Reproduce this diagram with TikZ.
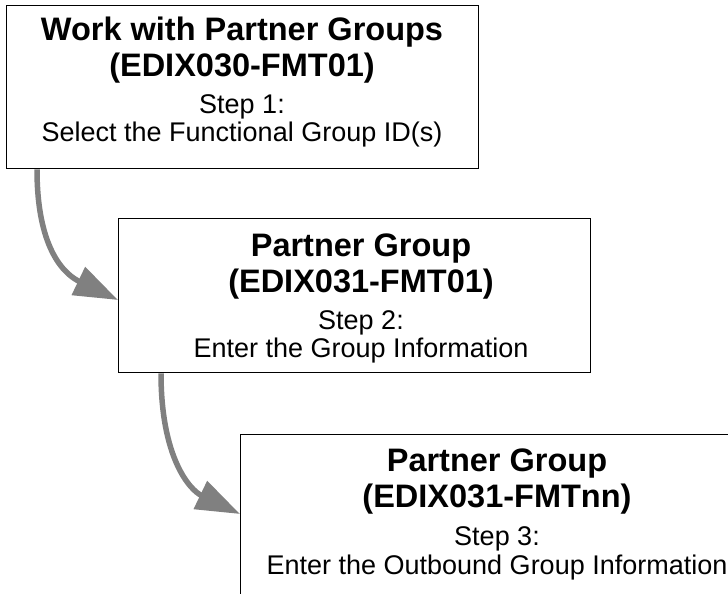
\documentclass[tikz,border=0pt]{standalone}
\usepackage{fontspec}
\setmainfont{Liberation Sans}
\usetikzlibrary{arrows.meta}
\definecolor{arrowgray}{HTML}{808080}
\tikzset{
  box/.style={draw=black, line width=1.3pt, fill=white, anchor=north west, inner sep=0pt},
  ttl/.style={anchor=base, inner sep=0pt, font=\fontsize{32.5}{36}\selectfont\bfseries},
  body/.style={anchor=base, inner sep=0pt, font=\fontsize{27}{31}\selectfont},
  flow/.style={draw=arrowgray, line width=5.5pt, -{Triangle[length=44pt,width=30pt]}, arrowgray}
}
\begin{document}
\begin{tikzpicture}[x=1pt,y=-1pt]
\useasboundingbox (0,0) rectangle (728,594);
\clip (0,0) rectangle (728,594);
% boxes
\node[box, minimum width=472pt, minimum height=163pt] (b1) at (6,5) {};
\node[box, minimum width=472pt, minimum height=154pt] (b2) at (118,218) {};
\node[box, minimum width=530pt, minimum height=200pt] (b3) at (240,434) {};
% texts box 1
\node[ttl] (t1a) at (242,41) {Work with Partner Groups};
\node[ttl] (t1b) at (242,77) {(EDIX030-FMT01)};
\node[body] (s1a) at (242,113) {Step 1:};
\node[body] (s1b) at (242,141) {Select the Functional Group ID(s)};
% texts box 2
\node[ttl] (t2a) at (361,256) {Partner Group};
\node[ttl] (t2b) at (361,292) {(EDIX031-FMT01)};
\node[body] (s2a) at (361,329) {Step 2:};
\node[body] (s2b) at (361,357) {Enter the Group Information};
% texts box 3
\node[ttl] (t3a) at (497,471) {Partner Group};
\node[ttl] (t3b) at (497,507) {(EDIX031-FMTnn)};
\node[body] (s3a) at (497,545) {Step 3:};
\node[body] (s3b) at (497,574) {Enter the Outbound Group Information};
% connectors
\coordinate (a1s) at ([xshift=31pt]b1.south west);
\coordinate (a1e) at ([yshift=-82pt]b2.north west);
\coordinate (a2s) at ([xshift=43pt]b2.south west);
\coordinate (a2e) at ([yshift=-80pt]b3.north west);
\draw[flow] (a1s) .. controls ([yshift=-85pt]a1s) and ([xshift=-50pt,yshift=24pt]a1e) .. (a1e);
\draw[flow] (a2s) .. controls ([yshift=-85pt]a2s) and ([xshift=-50pt,yshift=24pt]a2e) .. (a2e);
\end{tikzpicture}
\end{document}
